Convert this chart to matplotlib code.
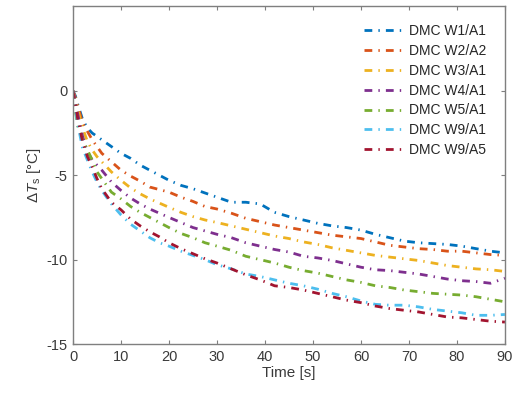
import matplotlib
matplotlib.use("Agg")
import matplotlib.pyplot as plt
import numpy as np

plt.rcParams['font.family'] = ['Liberation Sans', 'DejaVu Sans']
plt.rcParams['mathtext.fontset'] = 'custom'
plt.rcParams['mathtext.rm'] = 'Liberation Sans'
plt.rcParams['mathtext.it'] = 'Liberation Sans:italic'
plt.rcParams['axes.unicode_minus'] = False

time_s = [0, 0.5, 1, 2, 3, 4, 5, 6, 8, 10, 12, 14, 16, 18, 20, 22.5, 25, 27.5, 30,
          33, 36, 39, 42, 45, 48, 51, 54, 57, 60, 63, 66, 69, 72, 75, 78, 81, 84, 87, 90]

w1_a1 = [0, -0.3, -0.8, -1.7, -2.2, -2.5, -2.7, -2.9, -3.3, -3.7, -4.0, -4.4, -4.7, -5.0, -5.3,
         -5.6, -5.8, -6.05, -6.3, -6.6, -6.6, -6.7, -7.2, -7.45, -7.65, -7.85, -8.0, -8.1, -8.25,
         -8.5, -8.7, -8.9, -9.0, -9.05, -9.1, -9.2, -9.35, -9.5, -9.6]
w2_a2 = [0, -0.4, -0.9, -1.9, -2.4, -2.9, -3.3, -3.7, -4.2, -4.7, -5.05, -5.35, -5.7, -5.85, -6.0,
         -6.3, -6.55, -6.85, -7.0, -7.25, -7.55, -7.75, -7.95, -8.1, -8.25, -8.4, -8.55, -8.65, -8.75,
         -8.95, -9.15, -9.25, -9.35, -9.4, -9.5, -9.5, -9.6, -9.7, -9.75]
w3_a1 = [0, -0.5, -1.1, -2.2, -3.0, -3.5, -3.9, -4.2, -4.8, -5.3, -5.75, -6.1, -6.4, -6.65, -6.9,
         -7.2, -7.45, -7.65, -7.8, -8.0, -8.2, -8.4, -8.6, -8.75, -8.95, -9.1, -9.3, -9.45, -9.6,
         -9.75, -9.85, -9.95, -10.05, -10.2, -10.35, -10.45, -10.55, -10.6, -10.7]
w4_a1 = [0, -0.6, -1.4, -2.7, -3.6, -4.1, -4.4, -4.7, -5.4, -5.9, -6.35, -6.7, -7.0, -7.25, -7.5,
         -7.8, -8.1, -8.3, -8.5, -8.7, -9.0, -9.2, -9.4, -9.55, -9.8, -9.9, -10.05, -10.25, -10.45,
         -10.6, -10.65, -10.75, -10.85, -11.0, -11.15, -11.25, -11.3, -11.4, -11.1]
w5_a1 = [0, -1.2, -2.1, -2.9, -3.5, -4.1, -4.8, -5.2, -6.0, -6.4, -6.85, -7.2, -7.5, -7.8, -8.1,
         -8.45, -8.7, -9.0, -9.2, -9.45, -9.8, -10.0, -10.2, -10.45, -10.65, -10.8, -11.0, -11.2, -11.35,
         -11.55, -11.65, -11.8, -11.9, -12.0, -12.05, -12.1, -12.2, -12.35, -12.5]
w9_a1 = [0, -1.0, -2.0, -3.4, -4.1, -4.8, -5.4, -5.9, -6.7, -7.35, -7.9, -8.3, -8.7, -9.0, -9.2,
         -9.5, -9.75, -10.0, -10.3, -10.55, -10.85, -11.0, -11.2, -11.4, -11.55, -11.75, -12.0, -12.2, -12.45,
         -12.65, -12.7, -12.7, -12.8, -12.95, -13.05, -13.15, -13.3, -13.3, -13.25]
w9_a5 = [0, -0.8, -1.7, -3.0, -3.9, -4.5, -5.2, -5.8, -6.6, -7.05, -7.6, -8.0, -8.35, -8.65, -9.0,
         -9.35, -9.65, -9.95, -10.2, -10.55, -10.9, -11.2, -11.55, -11.65, -11.8, -12.0, -12.2, -12.4, -12.55,
         -12.75, -12.9, -13.0, -13.1, -13.25, -13.4, -13.45, -13.55, -13.65, -13.7]

labels = ['DMC W1/A1', 'DMC W2/A2', 'DMC W3/A1', 'DMC W4/A1', 'DMC W5/A1', 'DMC W9/A1', 'DMC W9/A5']
series = [w1_a1, w2_a2, w3_a1, w4_a1, w5_a1, w9_a1, w9_a5]
colors = ['#0072BD', '#D95319', '#EDB120', '#7E2F8E', '#77AC30', '#4DBEEE', '#A2142F']

x_ticks = [0, 10, 20, 30, 40, 50, 60, 70, 80, 90]
y_ticks = [-15, -10, -5, 0]

fig = plt.figure(figsize=(5.2, 3.96), dpi=100)
ax = fig.add_axes([0.1404, 0.1313, 0.8306, 0.8523])

for vals, lab, c in zip(series, labels, colors):
    ax.plot(time_s, vals, color=c, lw=2.0, label=lab, dashes=(2.8, 2.2, 0.5, 2.2))

ax.set_xlim(0, 90)
ax.set_ylim(-15, 5)
ax.set_xticks(x_ticks)
ax.set_yticks(y_ticks)

gray = '#7f7f7f'
txt = '#3a3a3a'
for s in ax.spines.values():
    s.set_color(gray)
    s.set_linewidth(1.0)
ax.tick_params(direction='in', top=True, right=True, length=3, width=0.8,
               colors=gray, labelcolor=txt, labelsize=10.5, pad=4)

ax.set_xlabel('Time [s]', fontsize=11, color=txt, labelpad=2)
ax.set_ylabel(r'$\Delta\mathit{T}_{\mathrm{s}}$ [°C]', fontsize=11, color=txt, labelpad=2)

leg = ax.legend(loc='upper right', frameon=False, fontsize=10, handlelength=2.9,
                handletextpad=0.3, labelspacing=0.42, borderaxespad=0.5,
                bbox_to_anchor=(0.985, 0.985))
for t in leg.get_texts():
    t.set_color('#262626')

fig.savefig('out.png', dpi=100)
